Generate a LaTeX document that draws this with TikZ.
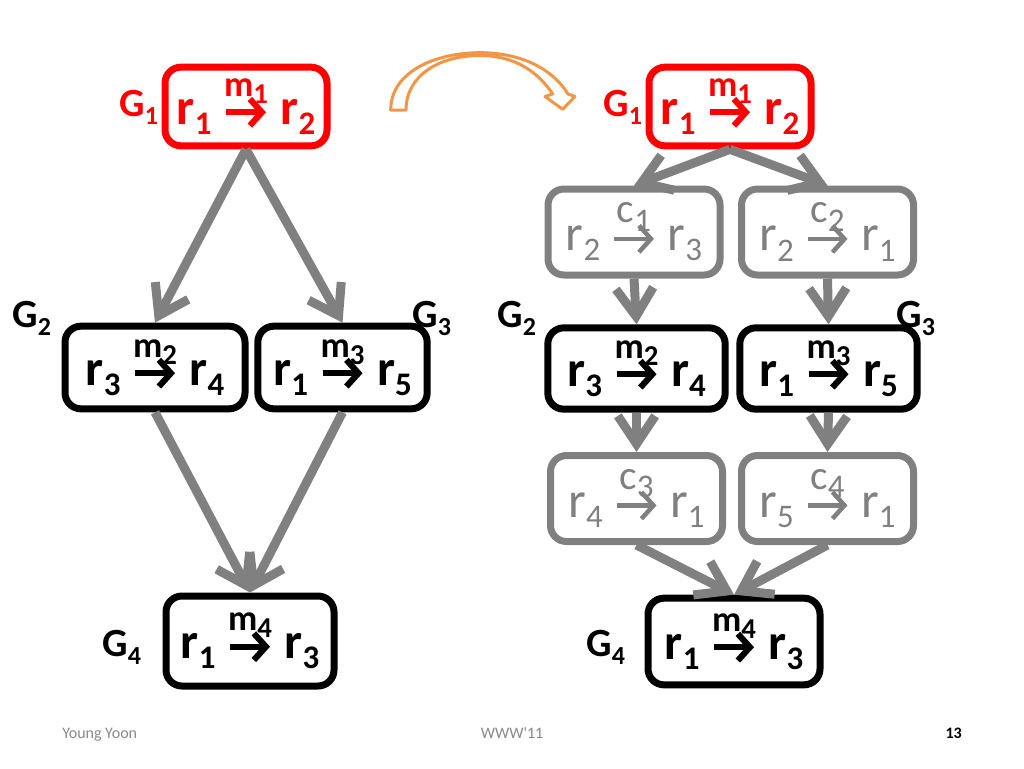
\documentclass[tikz,border=0pt]{standalone}
\usepackage{fontspec}
\setmainfont{Carlito}
\usetikzlibrary{arrows.meta}
\definecolor{slidered}{RGB}{255,0,0}
\definecolor{slidegray}{RGB}{128,128,128}
\definecolor{arcorange}{RGB}{242,150,70}
\definecolor{footgray}{RGB}{137,137,137}
\newcommand\sub[2][.65]{\raisebox{-.2em}{\scalebox{#1}{#2}}}
\newcommand\ra[1][4.6pt]{\tikz[baseline=0pt,x=1pt,y=1pt]\draw[line width=#1,
    -{Straight Barb[length=9pt,width=20pt]}] (0,9) -- (30,9);}
\newcommand\mline[2][27]{{\fontsize{#1}{21}\selectfont #2}}
\tikzset{
    rule/.style={rectangle, rounded corners=12pt, line width=5.25pt, align=center,
        font={\bfseries\fontsize{38}{21}\selectfont\lineskiplimit=-100pt}},
    gbox/.style={rule, draw=black, minimum width=131pt, minimum height=62pt},
    redbox/.style={rule, draw=slidered, text=slidered, minimum width=121.5pt,
        minimum height=59pt},
    cbox/.style={rule, draw=slidegray, text=slidegray, minimum width=129pt,
        minimum height=64.5pt, font={\mdseries\fontsize{38}{21}\selectfont\lineskiplimit=-100pt}},
    glabel/.style={inner sep=0pt, font=\bfseries\fontsize{30}{30}\selectfont},
    foot/.style={inner sep=0pt, font=\fontsize{12}{12}\selectfont, text=footgray}
}
\tikzset{
    flow/.style={draw=slidegray, line width=6.75pt,
        -{Straight Barb[length=21pt,width=28pt]}}
}

\begin{document}
\begin{tikzpicture}[x=0.75pt, y=-0.75pt]
  \useasboundingbox (0,0) rectangle (1024,768);

  % before
  \node (lg1) [redbox] at (246,106.5) {\mline{m\sub[.8]{1}}\\r\sub{1} \ra{} r\sub{2}};
  \node (lg2) [gbox, minimum width=135pt] at (155,367.5) {\mline{m\sub[.8]{2}}\\r\sub{3} \ra{} r\sub{4}};
  \node (lg3) [gbox, minimum width=127pt] at (342.5,367.5) {\mline{m\sub[.8]{3}}\\r\sub{1} \ra{} r\sub{5}};
  \node (lg4) [gbox, minimum width=126pt, minimum height=67.5pt] at (250,641) {\mline{m\sub[.8]{4}}\\r\sub{1} \ra{} r\sub{3}};

  \node (lG1) [glabel, text=slidered, anchor=base west] at (119,116) {G\sub{1}};
  \node (lG2) [glabel, anchor=base west] at (12,327) {G\sub{2}};
  \node (lG3) [glabel, anchor=base west] at (412,327) {G\sub{3}};
  \node (lG4) [glabel, anchor=base west] at (102,656) {G\sub{4}};

  \draw (lg1.south) edge [flow] (lg2.north);
  \draw (lg1.south) edge [flow] (lg3.north);
  \draw (lg2.south) edge [flow] (lg4.north);
  \draw (lg3.south) edge [flow] (lg4.north);

  % after
  \node (rg1) [redbox] at (730,106.5) {\mline{m\sub[.8]{1}}\\r\sub{1} \ra{} r\sub{2}};
  \node (c1) [cbox] at (634,232) {\mline[31]{c\sub[.8]{1}}\\r\sub{2} \ra[3.4pt]{} r\sub{3}};
  \node (c2) [cbox] at (827.5,232) {\mline[31]{c\sub[.8]{2}}\\r\sub{2} \ra[3.4pt]{} r\sub{1}};
  \node (rg2) [gbox, minimum width=133pt, minimum height=61pt] at (636.5,368.5) {\mline{m\sub[.8]{2}}\\r\sub{3} \ra{} r\sub{4}};
  \node (rg3) [gbox, minimum width=133pt, minimum height=61pt] at (828.5,368.5) {\mline{m\sub[.8]{3}}\\r\sub{1} \ra{} r\sub{5}};
  \node (c3) [cbox] at (636.5,498.5) {\mline[31]{c\sub[.8]{3}}\\r\sub{4} \ra[3.4pt]{} r\sub{1}};
  \node (c4) [cbox] at (827.5,498.5) {\mline[31]{c\sub[.8]{4}}\\r\sub{5} \ra[3.4pt]{} r\sub{1}};
  \node (rg4) [gbox, minimum width=129pt, minimum height=65pt] at (734,641.5) {\mline{m\sub[.8]{4}}\\r\sub{1} \ra{} r\sub{3}};

  \node (rG1) [glabel, text=slidered, anchor=base west] at (603,116) {G\sub{1}};
  \node (rG2) [glabel, anchor=base west] at (497,327) {G\sub{2}};
  \node (rG3) [glabel, anchor=base west] at (896,327) {G\sub{3}};
  \node (rG4) [glabel, anchor=base west] at (586,656) {G\sub{4}};

  \draw (rg1.south) edge [flow] (c1.north);
  \draw (rg1.south) edge [flow] (c2.north);
  \draw (c1.south) edge [flow] (rg2.north);
  \draw (c2.south) edge [flow] (rg3.north);
  \draw (rg2.south) edge [flow] (c3.north);
  \draw (rg3.south) edge [flow] (c4.north);
  \draw (c3.south) edge [flow] (rg4.north);
  \draw (c4.south) edge [flow] (rg4.north);

  % turn arrow
  \draw[arcorange, line width=2.25pt, line join=round]
    (390.7,110) .. controls (390.7,72) and (435,52.7) .. (480,52.7)
    .. controls (520,52.7) and (552,68) .. (568,94) -- (575,96.5) -- (562.7,109.3)
    -- (545,96.5) -- (552.7,94) .. controls (538,72) and (515,55.5) .. (480,55.5)
    .. controls (440,55.5) and (406,75) .. (406,110) -- cycle;

  \node (author) [foot, anchor=base west] at (62,738) {Young Yoon};
  \node (venue) [foot, anchor=base] at (512,738) {WWW\textquotesingle 11};
  \node (page) [foot, anchor=base east, text=black, font=\bfseries\fontsize{12}{12}\selectfont] at (962,738) {13};
\end{tikzpicture}
\end{document}
